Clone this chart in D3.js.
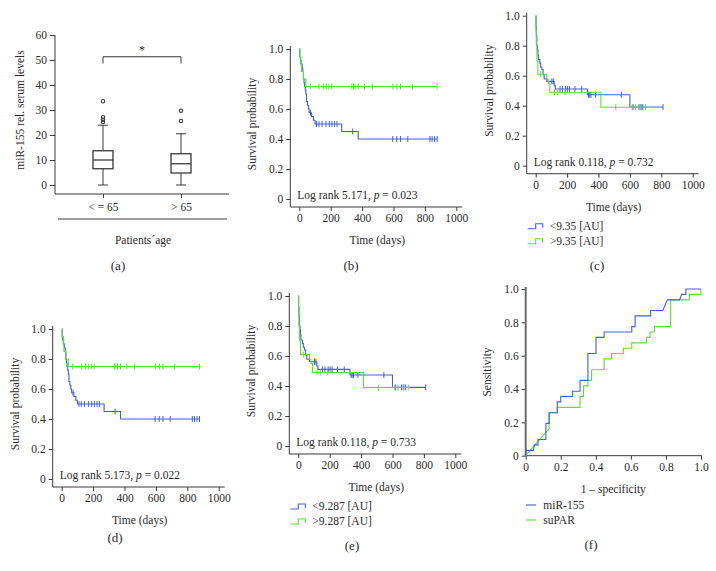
<!DOCTYPE html>
<html>
<head>
<meta charset="utf-8">
<script src="https://cdn.jsdelivr.net/npm/d3@7"></script>
<style>
body { margin: 0; background: #fff; }
svg text { font-family: "Liberation Serif", "DejaVu Serif", serif; fill: #2b2b2b; }
</style>
</head>
<body>
<svg id="fig" width="716" height="571"></svg>
<script>
// ---- (a) box plot data ----
var ageGroups = ["< = 65", "> 65"];
var boxLow = [0, 0];
var boxQ1 = [6.5, 4.8];
var boxMedian = [10, 8.5];
var boxQ3 = [13.7, 12.5];
var boxHigh = [23.9, 20.5];
var boxOutliers = [[33.5, 27.1, 26.1, 25.2], [29.7, 25.6]];
var mirTicks = [0, 10, 20, 30, 40, 50, 60];

// ---- Kaplan-Meier data, age split (b) and (d): [time, survival] ----
var ageYoungSteps = [[0, 1], [3, 0.95], [7, 0.925], [12, 0.9], [18, 0.875], [22, 0.85], [26, 0.8], [30, 0.775],
    [34, 0.75], [38, 0.725], [42, 0.7], [46, 0.65], [52, 0.625], [58, 0.6], [63, 0.575], [78, 0.55],
    [90, 0.525], [100, 0.5], [270, 0.45], [375, 0.4]];
var ageYoungCensor = [72, 110, 125, 145, 170, 191, 208, 225, 240, 340, 595, 621, 645, 691, 832, 846, 862, 878];
var ageOldSteps = [[0, 1], [4, 0.95], [10, 0.9], [14, 0.85], [27, 0.8], [42, 0.75]];
var ageOldCensor = [70, 125, 153, 172, 188, 207, 335, 345, 355, 375, 415, 465, 596, 622, 645, 720, 878];
var ageEnd = [878, 878];

// ---- Kaplan-Meier data, marker split (c) and (e) ----
var lowSteps = [[0, 1], [2, 0.93], [4, 0.87], [7, 0.8], [11, 0.773], [14, 0.74], [17, 0.707], [26, 0.684],
    [32, 0.658], [39, 0.64], [47, 0.607], [54, 0.578], [71, 0.562], [118, 0.533], [125, 0.511],
    [329, 0.473], [600, 0.391]];
var lowCensor = [103, 112, 155, 170, 190, 202, 215, 250, 293, 336, 343, 352, 380, 545, 620, 658, 671, 682, 811];
var highSteps = [[0, 1], [2, 0.9], [4, 0.8], [8, 0.7], [14, 0.61], [71, 0.578], [80, 0.55], [90, 0.49], [415, 0.39]];
var highCensor = [32, 120, 140, 187, 510, 615, 635, 668, 700];
var markerEnd = [811, 706];

var timeTicks = [0, 200, 400, 600, 800, 1000];
var probTicks = [0, 0.2, 0.4, 0.6, 0.8, 1.0];

// ---- (f) ROC curves: [1 - specificity, sensitivity] ----
var rocMir = [[0, 0], [0, 0.032], [0.044, 0.032], [0.049, 0.065], [0.07, 0.065], [0.07, 0.097], [0.115, 0.097],
    [0.115, 0.194], [0.134, 0.194], [0.134, 0.258], [0.18, 0.258], [0.18, 0.323], [0.2, 0.323], [0.2, 0.355],
    [0.268, 0.355], [0.268, 0.387], [0.31, 0.387], [0.31, 0.452], [0.355, 0.452], [0.355, 0.613],
    [0.401, 0.613], [0.401, 0.71], [0.447, 0.71], [0.447, 0.742], [0.605, 0.742], [0.605, 0.774],
    [0.624, 0.774], [0.624, 0.839], [0.713, 0.839], [0.713, 0.871], [0.782, 0.871], [0.808, 0.935],
    [0.877, 0.935], [0.89, 0.968], [0.914, 0.968], [0.914, 1], [1, 1]];
var rocSupar = [[0, 0], [0.133, 0.161], [0.133, 0.258], [0.18, 0.258], [0.18, 0.29], [0.31, 0.29], [0.31, 0.355],
    [0.33, 0.355], [0.33, 0.419], [0.355, 0.419], [0.355, 0.452], [0.376, 0.452], [0.376, 0.516],
    [0.447, 0.516], [0.447, 0.581], [0.49, 0.581], [0.49, 0.613], [0.557, 0.613], [0.557, 0.645],
    [0.605, 0.645], [0.605, 0.677], [0.69, 0.677], [0.69, 0.71], [0.709, 0.71], [0.709, 0.742],
    [0.734, 0.742], [0.734, 0.774], [0.827, 0.774], [0.827, 0.935], [0.933, 0.935], [0.933, 0.968],
    [1, 0.968], [1, 1]];
var rocTicks = [0, 0.2, 0.4, 0.6, 0.8, 1.0];

var BLUE = "#4262d6";
var GREEN = "#5bde36";
var AXIS = "#3a3a3a";
var FS = 11.5;

var svg = d3.select("#fig");

function txt(g, x, y, s, opt) {
    opt = opt || {};
    var t = g.append("text")
        .attr("x", x).attr("y", y)
        .attr("text-anchor", opt.anchor || "middle")
        .attr("dominant-baseline", "central")
        .attr("font-size", opt.size || FS)
        .text(s);
    if (opt.rotate) t.attr("transform", "rotate(-90," + x + "," + y + ")");
    return t;
}

function styleAxis(g) {
    g.select(".domain").remove();
    g.selectAll(".tick line").attr("stroke", AXIS);
    g.selectAll(".tick text").attr("font-size", FS).attr("font-family", null).attr("fill", "#2b2b2b");
}

function probFormat(d) { return d === 0 ? "0" : d3.format(".1f")(d); }

// ================= (a) =================
(function () {
    var g = svg.append("g");
    var y = d3.scaleLinear().domain([0, 60]).range([185, 35]);
    var x = d3.scalePoint().domain(ageGroups).range([103, 181]);

    g.append("g").attr("transform", "translate(55,0)")
        .call(d3.axisLeft(y).tickValues(mirTicks).tickSize(5).tickPadding(3))
        .call(styleAxis);
    g.append("line").attr("x1", 55).attr("x2", 55).attr("y1", 35).attr("y2", 194)
        .attr("stroke", AXIS);
    g.append("g").attr("transform", "translate(0,194)")
        .call(d3.axisBottom(x).tickSize(4).tickPadding(5))
        .call(styleAxis);
    g.append("line").attr("x1", 55).attr("x2", 229).attr("y1", 194).attr("y2", 194)
        .attr("stroke", AXIS);

    ageGroups.forEach(function (c, i) {
        var cx = x(c);
        var bw = 20, cw = 10;
        g.append("line").attr("x1", cx).attr("x2", cx).attr("y1", y(boxQ3[i])).attr("y2", y(boxHigh[i]))
            .attr("stroke", AXIS);
        g.append("line").attr("x1", cx).attr("x2", cx).attr("y1", y(boxQ1[i])).attr("y2", y(boxLow[i]))
            .attr("stroke", AXIS);
        g.append("line").attr("x1", cx - cw / 2).attr("x2", cx + cw / 2).attr("y1", y(boxHigh[i])).attr("y2", y(boxHigh[i]))
            .attr("stroke", AXIS);
        g.append("line").attr("x1", cx - cw / 2).attr("x2", cx + cw / 2).attr("y1", y(boxLow[i])).attr("y2", y(boxLow[i]))
            .attr("stroke", AXIS);
        g.append("rect").attr("x", cx - bw / 2).attr("width", bw)
            .attr("y", y(boxQ3[i])).attr("height", y(boxQ1[i]) - y(boxQ3[i]))
            .attr("fill", "none").attr("stroke", AXIS).attr("stroke-width", 1.3);
        g.append("line").attr("x1", cx - bw / 2).attr("x2", cx + bw / 2).attr("y1", y(boxMedian[i])).attr("y2", y(boxMedian[i]))
            .attr("stroke", AXIS).attr("stroke-width", 1.3);
        g.selectAll(null).data(boxOutliers[i]).enter().append("circle")
            .attr("cx", cx).attr("cy", function (d) { return y(d); }).attr("r", 1.7)
            .attr("fill", "none").attr("stroke", AXIS).attr("stroke-width", 1.1);
    });

    // significance bracket
    var xa = x(ageGroups[0]), xb = x(ageGroups[1]);
    g.append("path").attr("d", "M" + xa + "," + y(48.6) + "V" + y(51.3) + "H" + xb + "V" + y(48.6))
        .attr("fill", "none").attr("stroke", AXIS);
    txt(g, (xa + xb) / 2, 50, "*", {size: 12}).attr("fill", "#666");

    g.append("line").attr("x1", 58).attr("x2", 227).attr("y1", 219).attr("y2", 219).attr("stroke", AXIS);
    txt(g, 20, 110, "miR-155 rel. serum levels", {rotate: true});
    txt(g, 143, 240, "Patients\u00b4age");
    txt(g, 118, 265, "(a)", {size: 13});
})();

// ================= Kaplan-Meier panels =================
function stepPath(x, y, steps, end) {
    var pts = steps.map(function (d) { return [x(d[0]), y(d[1])]; });
    pts.push([x(end), y(steps[steps.length - 1][1])]);
    return d3.line().curve(d3.curveStepAfter)(pts);
}

function survivalAt(steps, t) {
    var s = 1;
    steps.forEach(function (d) { if (d[0] <= t) s = d[1]; });
    return s;
}

function kmPanel(cfg) {
    var g = svg.append("g");
    var x = d3.scaleLinear().domain([0, 1000]).range([cfg.x0, cfg.x0 + 157]);
    var y = d3.scaleLinear().domain([0, 1]).range([cfg.y0, cfg.y0 - 150]);
    var ax = cfg.x0 - 9, ay = cfg.y0 + 8;

    g.append("g").attr("transform", "translate(" + ax + ",0)")
        .call(d3.axisLeft(y).tickValues(probTicks).tickFormat(probFormat).tickSize(4).tickPadding(3))
        .call(styleAxis);
    g.append("line").attr("x1", ax).attr("x2", ax).attr("y1", y(1) - 3).attr("y2", ay).attr("stroke", AXIS);
    g.append("g").attr("transform", "translate(0," + ay + ")")
        .call(d3.axisBottom(x).tickValues(timeTicks).tickFormat(d3.format("d")).tickSize(4).tickPadding(3))
        .call(styleAxis);
    g.append("line").attr("x1", ax).attr("x2", x(1000) + 6).attr("y1", ay).attr("y2", ay).attr("stroke", AXIS);

    cfg.series.forEach(function (s) {
        g.append("path").attr("d", stepPath(x, y, s.steps, s.end))
            .attr("fill", "none").attr("stroke", s.color).attr("stroke-width", 1.1);
        g.selectAll(null).data(s.censor).enter().append("line")
            .attr("x1", function (d) { return x(d); }).attr("x2", function (d) { return x(d); })
            .attr("y1", function (d) { return y(survivalAt(s.steps, d)) - 3; })
            .attr("y2", function (d) { return y(survivalAt(s.steps, d)) + 3; })
            .attr("stroke", s.color).attr("stroke-width", 1);
    });

    var lr = g.append("text").attr("x", cfg.x0 - 2).attr("y", cfg.y0 - 4)
        .attr("dominant-baseline", "central").attr("font-size", FS);
    lr.append("tspan").text("Log rank " + cfg.logRank + ", ");
    lr.append("tspan").attr("font-style", "italic").text("p");
    lr.append("tspan").text(" = " + cfg.p);

    txt(g, ax - 38, cfg.y0 - 75, "Survival probability", {rotate: true});
    txt(g, cfg.x0 + 78, ay + 33, "Time (days)");

    if (cfg.legend) {
        cfg.legend.forEach(function (l, i) {
            var ly = ay + 52 + i * 15, lx = ax + 1;
            g.append("path")
                .attr("d", "M" + lx + "," + (ly + 3) + "H" + (lx + 8) + "V" + (ly - 2) + "H" + (lx + 15) + "V" + (ly + 2))
                .attr("fill", "none").attr("stroke", cfg.series[i].color).attr("stroke-width", 1.1);
            txt(g, lx + 22, ly, l, {anchor: "start"});
        });
    }
    txt(g, cfg.labelX, cfg.labelY, cfg.label, {size: 13});
}

var ageSeries = [
    {steps: ageYoungSteps, censor: ageYoungCensor, end: ageEnd[0], color: BLUE},
    {steps: ageOldSteps, censor: ageOldCensor, end: ageEnd[1], color: GREEN}
];
var markerSeries = [
    {steps: lowSteps, censor: lowCensor, end: markerEnd[0], color: BLUE},
    {steps: highSteps, censor: highCensor, end: markerEnd[1], color: GREEN}
];

kmPanel({x0: 299.3, y0: 199, series: ageSeries, logRank: "5.171", p: "0.023",
    label: "(b)", labelX: 351, labelY: 265});
kmPanel({x0: 535.7, y0: 165.7, series: markerSeries, logRank: "0.118", p: "0.732",
    legend: ["<9.35 [AU]", ">9.35 [AU]"], label: "(c)", labelX: 597, labelY: 265});
kmPanel({x0: 61.7, y0: 479, series: ageSeries, logRank: "5.173", p: "0.022",
    label: "(d)", labelX: 115, labelY: 537});
kmPanel({x0: 298.3, y0: 446, series: markerSeries, logRank: "0.118", p: "0.733",
    legend: ["<9.287 [AU]", ">9.287 [AU]"], label: "(e)", labelX: 352, labelY: 545});

// ================= (f) ROC =================
(function () {
    var g = svg.append("g");
    var x = d3.scaleLinear().domain([0, 1]).range([525.7, 701]);
    var y = d3.scaleLinear().domain([0, 1]).range([455.7, 289]);

    g.append("g").attr("transform", "translate(525.7,0)")
        .call(d3.axisLeft(y).tickValues(rocTicks).tickFormat(probFormat).tickSize(4).tickPadding(3))
        .call(styleAxis);
    g.append("g").attr("transform", "translate(0,455.7)")
        .call(d3.axisBottom(x).tickValues(rocTicks).tickFormat(probFormat).tickSize(4).tickPadding(3))
        .call(styleAxis);
    g.append("line").attr("x1", 525.7).attr("x2", 701.7).attr("y1", 455.7).attr("y2", 455.7).attr("stroke", AXIS);
    g.append("line").attr("x1", 525.7).attr("x2", 525.7).attr("y1", 456).attr("y2", 287)
        .attr("stroke", "#6a6a6a").attr("stroke-width", 2);

    var line = d3.line().x(function (d) { return x(d[0]); }).y(function (d) { return y(d[1]); });
    g.append("path").attr("d", line(rocSupar)).attr("fill", "none").attr("stroke", GREEN).attr("stroke-width", 1.1);
    g.append("path").attr("d", line(rocMir)).attr("fill", "none").attr("stroke", BLUE).attr("stroke-width", 1.1);

    txt(g, 487.3, 372, "Sensitivity", {rotate: true});
    txt(g, 613.3, 489, "1 \u2013 specificity");
    [["miR-155", BLUE], ["suPAR", GREEN]].forEach(function (l, i) {
        var ly = 505 + i * 15;
        g.append("line").attr("x1", 526).attr("x2", 536).attr("y1", ly).attr("y2", ly)
            .attr("stroke", l[1]).attr("stroke-width", 1.1);
        txt(g, 543.3, ly, l[0], {anchor: "start"});
    });
    txt(g, 591, 544, "(f)", {size: 13});
})();
</script>
</body>
</html>
